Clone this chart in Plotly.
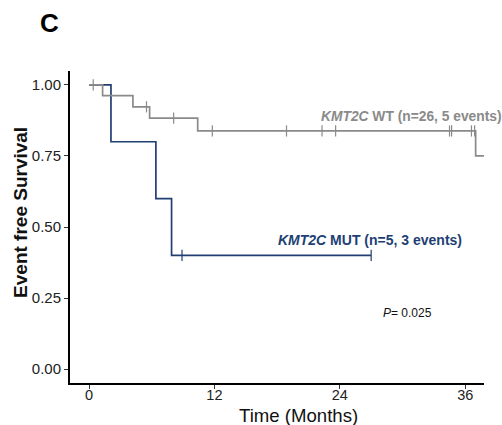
import plotly.graph_objects as go

# Kaplan-Meier step data (time in months, survival probability)
wt_time = [0, 1.3, 4.2, 5.8, 10.4, 37.0, 37.9]
wt_surv = [1.0, 0.962, 0.923, 0.883, 0.838, 0.75, 0.75]
wt_censor = [0.4, 5.5, 8.1, 11.8, 18.9, 22.3, 23.6, 34.5, 34.7, 36.6, 36.9]

mut_time = [0, 2.1, 6.4, 7.9, 27.0]
mut_surv = [1.0, 0.8, 0.6, 0.4, 0.4]
mut_censor = [8.9, 27.0]

x_ticks = [0, 12, 24, 36]
y_ticks = [0.0, 0.25, 0.5, 0.75, 1.0]
y_ticklabels = ["0.00", "0.25", "0.50", "0.75", "1.00"]

WT_COLOR = "#8a8a8a"
MUT_COLOR = "#213f73"
FONT = "Liberation Sans, Arial, Helvetica, sans-serif"


def step_value(times, survs, t):
    v = survs[0]
    for ti, si in zip(times, survs):
        if ti <= t:
            v = si
    return v


fig = go.Figure()

for times, survs, cens, color in [
    (mut_time, mut_surv, mut_censor, MUT_COLOR),
    (wt_time, wt_surv, wt_censor, WT_COLOR),
]:
    fig.add_trace(go.Scatter(
        x=times, y=survs, mode="lines", line=dict(color=color, width=1.7, shape="hv"),
        showlegend=False, hoverinfo="skip", cliponaxis=False))
    fig.add_trace(go.Scatter(
        x=cens, y=[step_value(times, survs, t) for t in cens], mode="markers",
        marker=dict(symbol="line-ns", size=8, line=dict(color=color, width=1.2)),
        showlegend=False, hoverinfo="skip", cliponaxis=False))

# labels (paper coordinates)
fig.add_annotation(x=0.601, y=0.853, xref="paper", yref="paper", xanchor="left", yanchor="middle",
                   text="<b><i>KMT2C</i> WT (n=26, 5 events)</b>", showarrow=False,
                   font=dict(family=FONT, size=13.8, color=WT_COLOR))
fig.add_annotation(x=0.497, y=0.458, xref="paper", yref="paper", xanchor="left", yanchor="middle",
                   text="<b><i>KMT2C</i> MUT (n=5, 3 events)</b>", showarrow=False,
                   font=dict(family=FONT, size=14, color=MUT_COLOR))
fig.add_annotation(x=0.751, y=0.224, xref="paper", yref="paper", xanchor="left", yanchor="middle",
                   text="<i>P</i>= 0.025", showarrow=False,
                   font=dict(family=FONT, size=12, color="#111111"))
fig.add_annotation(x=-0.0495, y=1.155, xref="paper", yref="paper", xanchor="center", yanchor="middle",
                   text="<b>C</b>", showarrow=False,
                   font=dict(family=FONT, size=26, color="#000000"))
fig.add_annotation(x=-0.121, y=0.548, xref="paper", yref="paper", xanchor="center", yanchor="middle",
                   text="<b>Event free Survival</b>", showarrow=False, textangle=-90,
                   font=dict(family=FONT, size=19, color="#111111"))
fig.add_annotation(x=0.553, y=-0.104, xref="paper", yref="paper", xanchor="center", yanchor="middle",
                   text="Time (Months)", showarrow=False,
                   font=dict(family=FONT, size=18.6, color="#111111"))

fig.update_layout(
    width=502, height=425,
    margin=dict(l=70, r=18, t=71, b=42),
    paper_bgcolor="white", plot_bgcolor="white",
    font=dict(family=FONT, color="#111111"),
    xaxis=dict(range=[-1.82, 37.8], tickvals=x_ticks, ticktext=[str(v) for v in x_ticks],
               showgrid=False, zeroline=False, showline=True, linecolor="black", linewidth=2,
               ticks="outside", ticklen=4, tickwidth=1, tickcolor="#333",
               ticklabelstandoff=-6,
               tickfont=dict(size=14.5, color="#222")),
    yaxis=dict(range=[-0.049, 1.049], tickvals=y_ticks, ticktext=y_ticklabels,
               showgrid=False, zeroline=False, showline=True, linecolor="black", linewidth=2,
               ticks="outside", ticklen=4, tickwidth=1, tickcolor="#333",
               tickfont=dict(size=15, color="#222")),
)

fig.write_html("out.html")
